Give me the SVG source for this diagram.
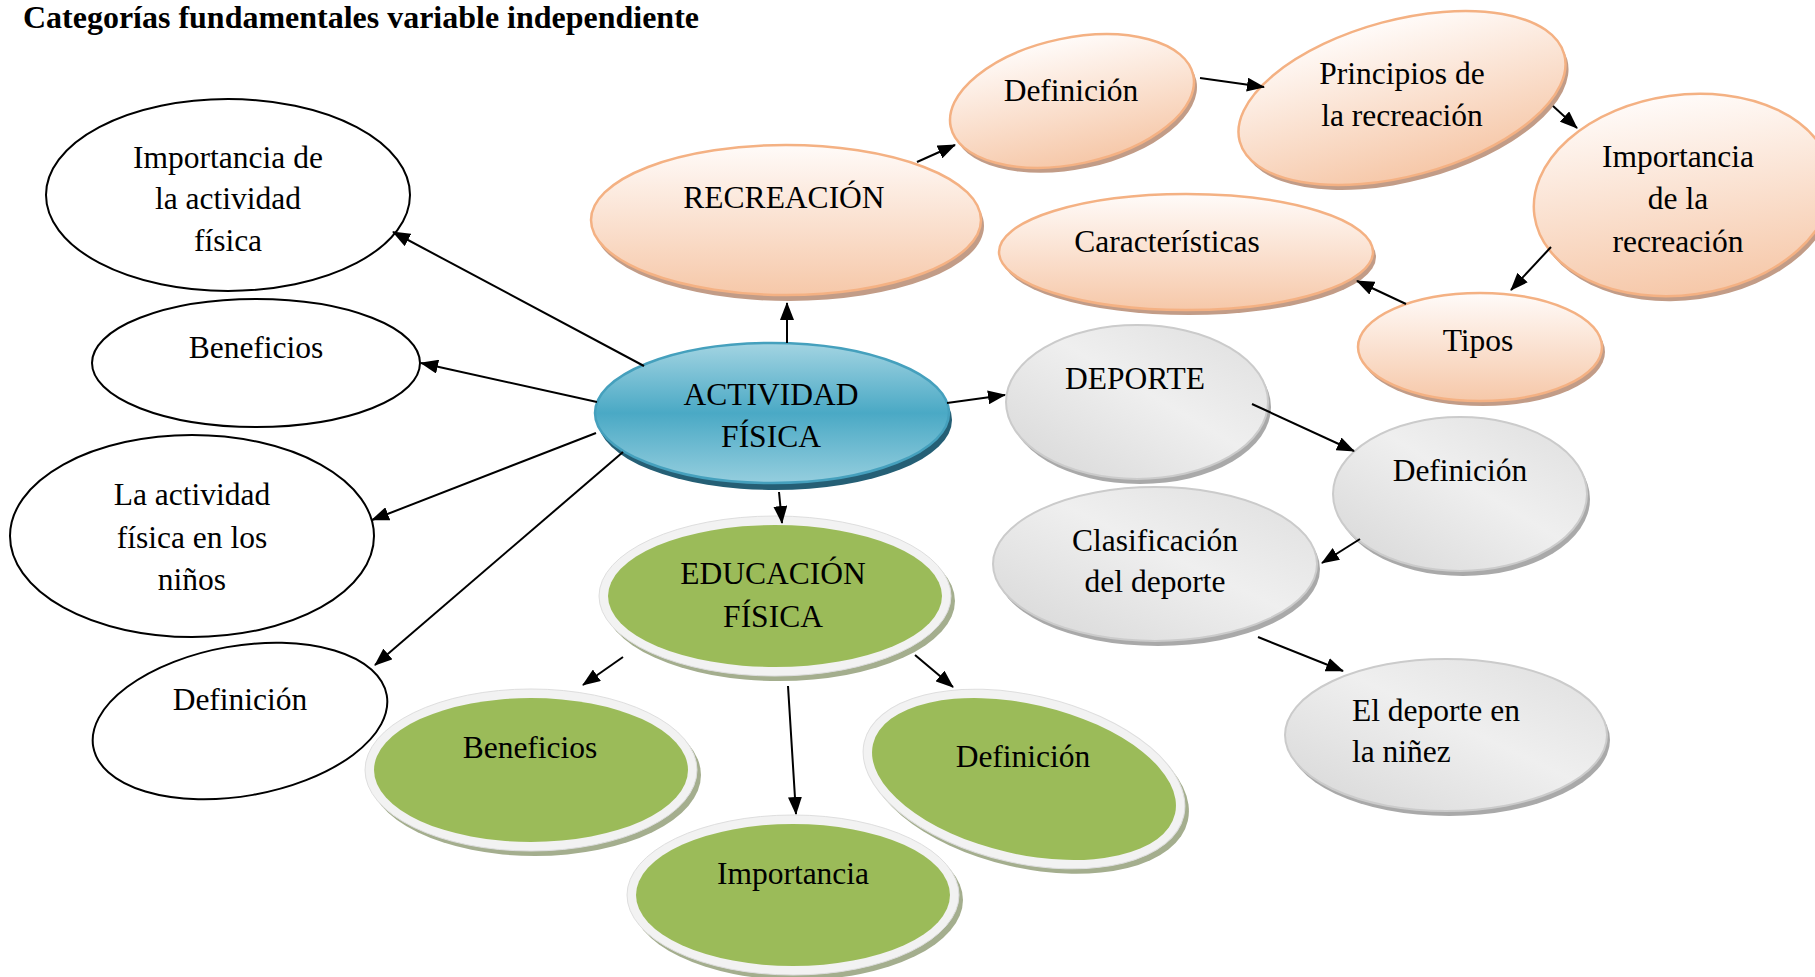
<svg xmlns="http://www.w3.org/2000/svg" width="1815" height="977" viewBox="0 0 1815 977">
  <defs>
    <linearGradient id="gOrange" x1="0" y1="0" x2="0" y2="1">
      <stop offset="0" stop-color="#fffbf9"/>
      <stop offset="1" stop-color="#f6c8a9"/>
    </linearGradient>
    <linearGradient id="gGrey" x1="0" y1="1" x2="1" y2="0">
      <stop offset="0" stop-color="#d6d6d6"/>
      <stop offset="0.55" stop-color="#efefef"/>
      <stop offset="1" stop-color="#dedede"/>
    </linearGradient>
    <linearGradient id="gBlue" x1="0" y1="0" x2="0" y2="1">
      <stop offset="0" stop-color="#a3d4e2"/>
      <stop offset="0.5" stop-color="#4aa9c5"/>
      <stop offset="1" stop-color="#95cede"/>
    </linearGradient>
    <marker id="arr" markerUnits="userSpaceOnUse" markerWidth="18" markerHeight="14" viewBox="0 0 18 14" refX="17" refY="7" orient="auto">
      <path d="M0,0 L18,7 L0,14 Z" fill="#000"/>
    </marker>
    <style>
      .t { font-family: "Liberation Serif", "Times New Roman", serif; font-size: 31.5px; fill: #000; text-anchor: middle; }
      .ts { text-anchor: start; }
      .title { font-family: "Liberation Serif", "Times New Roman", serif; font-size: 31px; font-weight: bold; fill: #000; }
      .white { fill: #fff; stroke: #000; stroke-width: 2; }
      .ofill { fill: url(#gOrange); stroke: #f4b183; stroke-width: 2.5; }
      .osh { fill: #c29c87; }
      .gfill { fill: url(#gGrey); stroke: #cbcbcb; stroke-width: 2; }
      .gsh { fill: #a9a9a9; }
      .bfill { fill: url(#gBlue); stroke: #45a0bd; stroke-width: 2.5; }
      .bsh { fill: #255f75; }
      .grn { fill: #9bbb59; }
      .rim { fill: #f2f2f2; stroke: #dedede; stroke-width: 1; }
      .grsh { fill: #a4ae8e; }
      .conn line { stroke: #000; stroke-width: 2; marker-end: url(#arr); }
    </style>
  </defs>

  <rect width="1815" height="977" fill="#fff"/>

  <text class="title" x="23" y="28" textLength="676" lengthAdjust="spacingAndGlyphs">Categorías fundamentales variable independiente</text>

  <!-- Left-hand plain nodes -->
  <g id="n-importancia-af">
    <ellipse class="white" cx="228" cy="195" rx="182" ry="96"/>
    <text class="t" x="228" y="168">Importancia de</text>
    <text class="t" x="228" y="209">la actividad</text>
    <text class="t" x="228" y="251">física</text>
  </g>
  <g id="n-beneficios-af">
    <ellipse class="white" cx="256" cy="363" rx="164" ry="64"/>
    <text class="t" x="256" y="358">Beneficios</text>
  </g>
  <g id="n-af-ninos">
    <ellipse class="white" cx="192" cy="536" rx="182" ry="101"/>
    <text class="t" x="192" y="505">La actividad</text>
    <text class="t" x="192" y="548">física en los</text>
    <text class="t" x="192" y="590">niños</text>
  </g>
  <g id="n-definicion-af">
    <ellipse class="white" cx="240" cy="721" rx="149" ry="75" transform="rotate(-10 240 721)"/>
    <text class="t" x="240" y="710">Definición</text>
  </g>

  <!-- Central node -->
  <g id="n-actividad-fisica">
    <ellipse class="bsh" cx="775" cy="420" rx="177" ry="70"/>
    <ellipse class="bfill" cx="772" cy="413" rx="177" ry="70"/>
    <text class="t" x="771" y="405">ACTIVIDAD</text>
    <text class="t" x="771" y="447">FÍSICA</text>
  </g>

  <!-- Recreation branch -->
  <g id="n-recreacion">
    <ellipse class="osh" cx="789" cy="226" rx="195" ry="75"/>
    <ellipse class="ofill" cx="786" cy="220" rx="195" ry="75"/>
    <text class="t" x="784" y="208">RECREACIÓN</text>
  </g>
  <g id="n-definicion-rec">
    <ellipse class="osh" cx="1072" cy="101" rx="124" ry="63" transform="translate(3 5) rotate(-12 1072 101)"/>
    <ellipse class="ofill" cx="1072" cy="101" rx="124" ry="63" transform="rotate(-12 1072 101)"/>
    <text class="t" x="1071" y="101">Definición</text>
  </g>
  <g id="n-principios">
    <ellipse class="osh" cx="1402" cy="98" rx="168" ry="78" transform="translate(3 5) rotate(-15 1402 98)"/>
    <ellipse class="ofill" cx="1402" cy="98" rx="168" ry="78" transform="rotate(-15 1402 98)"/>
    <text class="t" x="1402" y="84">Principios de</text>
    <text class="t" x="1402" y="126">la recreación</text>
  </g>
  <g id="n-importancia-rec">
    <ellipse class="osh" cx="1683" cy="195" rx="150" ry="100" transform="translate(3 5) rotate(-8 1683 195)"/>
    <ellipse class="ofill" cx="1683" cy="195" rx="150" ry="100" transform="rotate(-8 1683 195)"/>
    <text class="t" x="1678" y="167">Importancia</text>
    <text class="t" x="1678" y="209">de la</text>
    <text class="t" x="1678" y="252">recreación</text>
  </g>
  <g id="n-caracteristicas">
    <ellipse class="osh" cx="1189" cy="257" rx="187" ry="58"/>
    <ellipse class="ofill" cx="1186" cy="252" rx="187" ry="58"/>
    <text class="t" x="1167" y="252">Características</text>
  </g>
  <g id="n-tipos">
    <ellipse class="osh" cx="1483" cy="352" rx="122" ry="54"/>
    <ellipse class="ofill" cx="1480" cy="347" rx="122" ry="54"/>
    <text class="t" x="1478" y="351">Tipos</text>
  </g>

  <!-- Sport branch -->
  <g id="n-deporte">
    <ellipse class="gsh" cx="1140" cy="407" rx="131" ry="77"/>
    <ellipse class="gfill" cx="1137" cy="402" rx="131" ry="77"/>
    <text class="t" x="1135" y="389">DEPORTE</text>
  </g>
  <g id="n-definicion-dep">
    <ellipse class="gsh" cx="1463" cy="499" rx="127" ry="77"/>
    <ellipse class="gfill" cx="1460" cy="494" rx="127" ry="77"/>
    <text class="t" x="1460" y="481">Definición</text>
  </g>
  <g id="n-clasificacion">
    <ellipse class="gsh" cx="1158" cy="569" rx="162" ry="77"/>
    <ellipse class="gfill" cx="1155" cy="564" rx="162" ry="77"/>
    <text class="t" x="1155" y="551">Clasificación</text>
    <text class="t" x="1155" y="592">del deporte</text>
  </g>
  <g id="n-deporte-ninez">
    <ellipse class="gsh" cx="1449" cy="740" rx="161" ry="76"/>
    <ellipse class="gfill" cx="1446" cy="735" rx="161" ry="76"/>
    <text class="t ts" x="1352" y="721">El deporte en</text>
    <text class="t ts" x="1352" y="762">la niñez</text>
  </g>

  <!-- Physical education branch -->
  <g id="n-educacion-fisica">
    <ellipse class="grsh" cx="779" cy="601" rx="176" ry="80"/>
    <ellipse class="rim" cx="775" cy="596" rx="176" ry="80"/>
    <ellipse class="grn" cx="775" cy="596" rx="167" ry="71"/>
    <text class="t" x="773" y="584">EDUCACIÓN</text>
    <text class="t" x="773" y="627">FÍSICA</text>
  </g>
  <g id="n-beneficios-ef">
    <ellipse class="grsh" cx="535" cy="775" rx="166" ry="81"/>
    <ellipse class="rim" cx="531" cy="770" rx="166" ry="81"/>
    <ellipse class="grn" cx="531" cy="770" rx="157" ry="72"/>
    <text class="t" x="530" y="758">Beneficios</text>
  </g>
  <g id="n-importancia-ef">
    <ellipse class="grsh" cx="797" cy="900" rx="166" ry="80"/>
    <ellipse class="rim" cx="793" cy="895" rx="166" ry="80"/>
    <ellipse class="grn" cx="793" cy="895" rx="157" ry="71"/>
    <text class="t" x="793" y="884">Importancia</text>
  </g>
  <g id="n-definicion-ef">
    <ellipse class="grsh" cx="1024" cy="779" rx="164" ry="84" transform="translate(4 5) rotate(13 1024 779)"/>
    <ellipse class="rim" cx="1024" cy="779" rx="164" ry="84" transform="rotate(13 1024 779)"/>
    <ellipse class="grn" cx="1024" cy="779" rx="155" ry="75" transform="rotate(13 1024 779)"/>
    <text class="t" x="1023" y="767">Definición</text>
  </g>

  <!-- Connectors -->
  <g id="connectors" class="conn">
    <line x1="644" y1="366" x2="393" y2="232"/>
    <line x1="597" y1="402" x2="421" y2="363"/>
    <line x1="596" y1="433" x2="372" y2="520"/>
    <line x1="623" y1="452" x2="375" y2="665"/>
    <line x1="787" y1="343" x2="787" y2="303"/>
    <line x1="917" y1="162" x2="955" y2="145"/>
    <line x1="1200" y1="78" x2="1264" y2="87"/>
    <line x1="1553" y1="106" x2="1577" y2="128"/>
    <line x1="1551" y1="247" x2="1511" y2="290"/>
    <line x1="1406" y1="304" x2="1357" y2="281"/>
    <line x1="947" y1="403" x2="1005" y2="395"/>
    <line x1="1252" y1="404" x2="1354" y2="451"/>
    <line x1="1360" y1="539" x2="1322" y2="563"/>
    <line x1="1258" y1="637" x2="1343" y2="671"/>
    <line x1="779" y1="492" x2="782" y2="523"/>
    <line x1="623" y1="657" x2="583" y2="685"/>
    <line x1="788" y1="686" x2="796" y2="814"/>
    <line x1="915" y1="655" x2="953" y2="687"/>
  </g>
</svg>
